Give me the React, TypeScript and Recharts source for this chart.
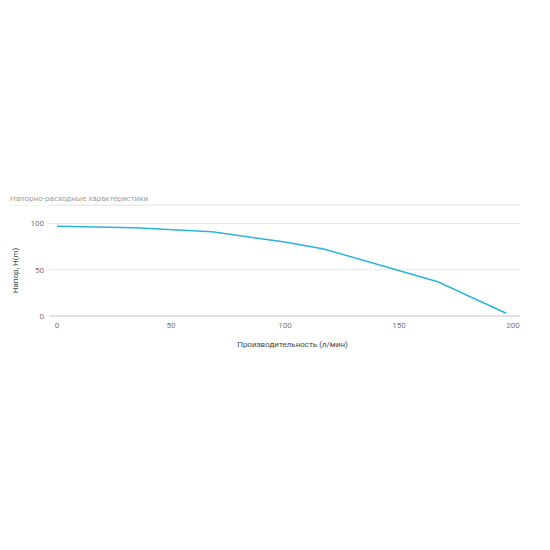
import { CartesianGrid, Label, Line, LineChart, XAxis, YAxis } from "recharts";

// Напорно-расходная характеристика насоса
const flow = [0, 34, 68, 100, 117, 167, 197];
const head = [97, 95.5, 91, 80, 72.5, 37, 3];
const xTicks = [0, 50, 100, 150, 200];
const yTicks = [0, 50, 100];

const data = flow.map((q, i) => ({ q, h: head[i] }));

const FONT = "Roboto, 'Noto Sans', sans-serif";

export default function App() {
  return (
    <div style={{ position: "absolute", left: 0, top: 0, width: 550, height: 550, fontFamily: FONT }}>
      <div
        style={{
          position: "absolute",
          left: 10,
          top: 194,
          fontSize: 8,
          lineHeight: "10px",
          color: "#a0a0a0",
        }}
      >
        Напорно-расходные характеристики
      </div>
      <div
        style={{
          position: "absolute",
          left: 10,
          top: 205,
          width: 510,
          borderTop: "1px solid #f2f2f2",
        }}
      />
      <LineChart
        width={550}
        height={550}
        data={data}
        margin={{ top: 205, right: 30, bottom: 194, left: 9 }}
        style={{ position: "absolute", left: 0, top: 0 }}
      >
        <CartesianGrid vertical={false} stroke="#e6e6e6" />
        <XAxis
          dataKey="q"
          type="number"
          domain={[0, 200]}
          ticks={xTicks}
          padding={{ left: 8, right: 7 }}
          axisLine={{ stroke: "#d0d0d0" }}
          tickLine={false}
          tickSize={0}
          tickMargin={6}
          height={40}
          tick={{ fontSize: 8, fill: "#777", fontFamily: FONT }}
        >
          <Label
            value="Производительность (л/мин)"
            position="insideBottom"
            offset={9}
            dx={8}
            style={{ fontSize: 8, fill: "#444", fontFamily: FONT }}
          />
        </XAxis>
        <YAxis
          type="number"
          domain={[0, 120]}
          ticks={yTicks}
          axisLine={false}
          tickLine={false}
          tickSize={0}
          tickMargin={5}
          width={40}
          tick={{ fontSize: 8, fill: "#777", fontFamily: FONT }}
        >
          <Label
            value="Напор, H(m)"
            angle={-90}
            position="insideLeft"
            offset={6}
            dy={10}
            style={{ fontSize: 8, fill: "#444", fontFamily: FONT, textAnchor: "middle" }}
          />
        </YAxis>
        <Line
          dataKey="h"
          type="linear"
          stroke="#2ab4d9"
          strokeWidth={1.5}
          dot={false}
          isAnimationActive={false}
        />
      </LineChart>
    </div>
  );
}
